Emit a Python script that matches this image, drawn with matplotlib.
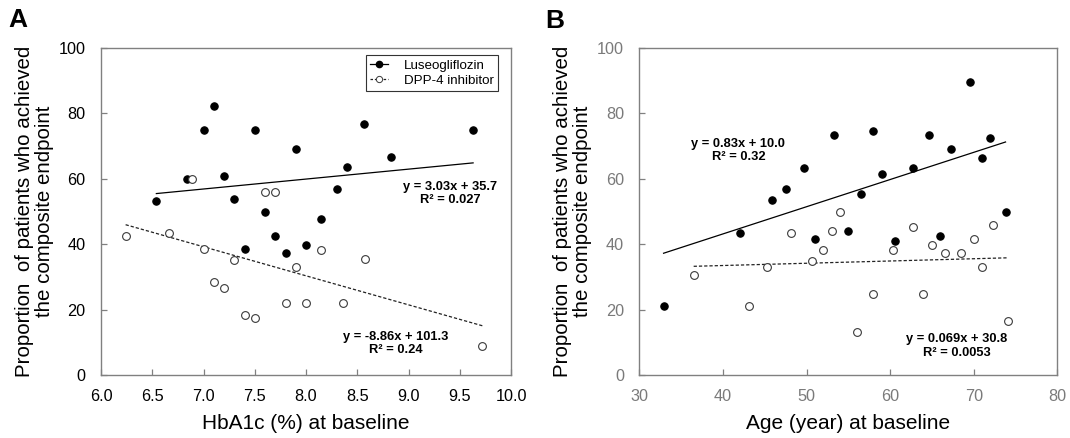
import matplotlib
matplotlib.use("Agg")
import matplotlib.pyplot as plt
from matplotlib.lines import Line2D
import numpy as np

plt.rcParams['font.family'] = ['Liberation Sans', 'DejaVu Sans']

# ---------------- Data ----------------
# Panel A: HbA1c (%) at baseline
hba1c_luseo = [6.54, 6.84, 7.0, 7.1, 7.2, 7.3, 7.4, 7.5, 7.6, 7.7, 7.8, 7.9, 8.0, 8.15, 8.30, 8.40, 8.57, 8.83, 9.63]
prop_luseo_a = [53.3, 60.0, 75.0, 82.2, 61.0, 53.8, 38.7, 75.0, 49.9, 42.7, 37.4, 69.1, 39.9, 47.8, 57.0, 63.5, 76.8, 66.6, 75.0]
hba1c_dpp = [6.24, 6.66, 6.89, 7.0, 7.1, 7.2, 7.3, 7.4, 7.5, 7.6, 7.7, 7.8, 7.9, 8.0, 8.15, 8.36, 8.58, 9.72]
prop_dpp_a = [42.7, 43.6, 59.9, 38.7, 28.4, 26.6, 35.1, 18.6, 17.5, 56.1, 56.1, 22.1, 33.2, 22.1, 38.3, 22.1, 35.5, 9.0]

# Panel B: Age (year) at baseline
age_luseo = [32.9, 42.0, 45.9, 47.6, 49.7, 51.0, 53.3, 55.0, 56.5, 58.0, 59.0, 60.6, 62.7, 64.6, 66.0, 67.3, 69.6, 71.0, 72.0, 73.8]
prop_luseo_b = [21.3, 43.5, 53.7, 57.0, 63.4, 41.5, 73.5, 44.2, 55.4, 74.7, 61.4, 41.0, 63.4, 73.5, 42.7, 69.0, 89.7, 66.4, 72.6, 49.8]
age_dpp = [36.5, 43.1, 45.3, 48.2, 50.6, 52.0, 53.0, 54.0, 56.0, 58.0, 60.4, 62.7, 63.9, 65.0, 66.5, 68.5, 70.0, 71.0, 72.3, 74.1]
prop_dpp_b = [30.6, 21.3, 33.1, 43.5, 34.8, 38.3, 44.2, 49.8, 13.3, 24.9, 38.3, 45.2, 24.9, 39.7, 37.4, 37.4, 41.5, 33.1, 45.9, 16.6]

# Regression coefficients (slope, intercept) and labels
fit_a_luseo = (3.03, 35.7)
fit_a_dpp = (-8.86, 101.3)
fit_b_luseo = (0.83, 10.0)
fit_b_dpp = (0.069, 30.8)
eq_a_luseo = "y = 3.03x + 35.7\nR² = 0.027"
eq_a_dpp = "y = -8.86x + 101.3\nR² = 0.24"
eq_b_luseo = "y = 0.83x + 10.0\nR² = 0.32"
eq_b_dpp = "y = 0.069x + 30.8\nR² = 0.0053"

series_names = ["Luseogliflozin", "DPP-4 inhibitor"]
ylabel_text = "Proportion  of patients who achieved\nthe composite endpoint"
xlabel_a = "HbA1c (%) at baseline"
xlabel_b = "Age (year) at baseline"
xticks_a = [6.0, 6.5, 7.0, 7.5, 8.0, 8.5, 9.0, 9.5, 10.0]
xticks_b = [30, 40, 50, 60, 70, 80]
yticks = [0, 20, 40, 60, 80, 100]

# ---------------- Figure ----------------
fig = plt.figure(figsize=(10.70, 4.38), dpi=100)
axA = fig.add_axes([0.0944, 0.1427, 0.3832, 0.7482])
axB = fig.add_axes([0.5975, 0.1427, 0.3907, 0.7482])

spine_col = '#808080'
open_edge = '#3a3a3a'


def style_axes(ax, tickcol):
    for s in ax.spines.values():
        s.set_color(spine_col)
        s.set_linewidth(1.0)
    ax.tick_params(direction='in', length=4, width=0.9, color=spine_col,
                   labelsize=11.7, labelcolor=tickcol)
    ax.tick_params(axis='x', pad=10)
    ax.tick_params(axis='y', pad=11)


def fit_line(ax, x, fit, **kw):
    xs = np.array([min(x), max(x)])
    ax.plot(xs, fit[0] * xs + fit[1], **kw)


solid_kw = dict(color='black', lw=0.9)
dash_kw = dict(color='#222222', lw=0.9, ls=(0, (2.6, 1.6)))
fill_kw = dict(marker='o', ls='none', ms=5.3, mfc='black', mec='black', mew=0.8)
open_kw = dict(marker='o', ls='none', ms=5.6, mfc='white', mec=open_edge, mew=0.8)

# Panel A
fit_line(axA, hba1c_luseo, fit_a_luseo, **solid_kw)
fit_line(axA, hba1c_dpp, fit_a_dpp, **dash_kw)
axA.plot(hba1c_luseo, prop_luseo_a, zorder=3, **fill_kw)
axA.plot(hba1c_dpp, prop_dpp_a, zorder=4, **open_kw)
axA.set_xlim(6.0, 10.0)
axA.set_ylim(0, 100)
axA.set_xticks(xticks_a)
axA.set_xticklabels([f"{v:.1f}" for v in xticks_a])
axA.set_yticks(yticks)
style_axes(axA, 'black')

eq_kw = dict(fontsize=9.3, fontweight='bold', ha='center', va='center',
             multialignment='center', linespacing=1.15)
axA.text(9.41, 55.6, eq_a_luseo, **eq_kw)
axA.text(8.876, 9.7, eq_a_dpp, **eq_kw)

handles = [
    Line2D([], [], color='black', lw=0.9, marker='o', ms=4.5, mfc='black', mec='black'),
    Line2D([], [], color='#222222', lw=0.9, ls=(0, (2.0, 1.5)), marker='o', ms=4.5,
           mfc='white', mec=open_edge, mew=0.7),
]
leg = axA.legend(handles, series_names, loc='upper right',
                 bbox_to_anchor=(0.9676, 0.9765), borderaxespad=0,
                 fontsize=9.6, frameon=True, fancybox=False, framealpha=1,
                 edgecolor='#333333', handlelength=1.3, handletextpad=1.2,
                 labelspacing=0.2, borderpad=0.3)
leg.get_frame().set_linewidth(0.8)

# Panel B
fit_line(axB, age_luseo, fit_b_luseo, **solid_kw)
fit_line(axB, age_dpp, fit_b_dpp, **dash_kw)
axB.plot(age_luseo, prop_luseo_b, zorder=3, **fill_kw)
axB.plot(age_dpp, prop_dpp_b, zorder=4, **open_kw)
axB.set_xlim(30, 80)
axB.set_ylim(0, 100)
axB.set_xticks(xticks_b)
axB.set_yticks(yticks)
style_axes(axB, '#7a7a7a')
axB.text(41.84, 68.6, eq_b_luseo, **eq_kw)
axB.text(68.0, 9.05, eq_b_dpp, **eq_kw)

# Axis labels
for ax, xl, ycoord in ((axA, xlabel_a, -0.162), (axB, xlabel_b, -0.160)):
    ax.set_xlabel(xl, fontsize=15, va='center')
    ax.xaxis.set_label_coords(0.5, -0.1475)
    ax.set_ylabel(ylabel_text, fontsize=14.8, va='center', linespacing=1.1)
    ax.yaxis.set_label_coords(ycoord, 0.5)

# Panel letters
fig.text(8 / 1070, 1 - 27.3 / 438, "A", fontsize=19, fontweight='bold', ha='left', va='baseline')
fig.text(545 / 1070, 1 - 28.3 / 438, "B", fontsize=19, fontweight='bold', ha='left', va='baseline')

fig.savefig("out.png", dpi=100)
